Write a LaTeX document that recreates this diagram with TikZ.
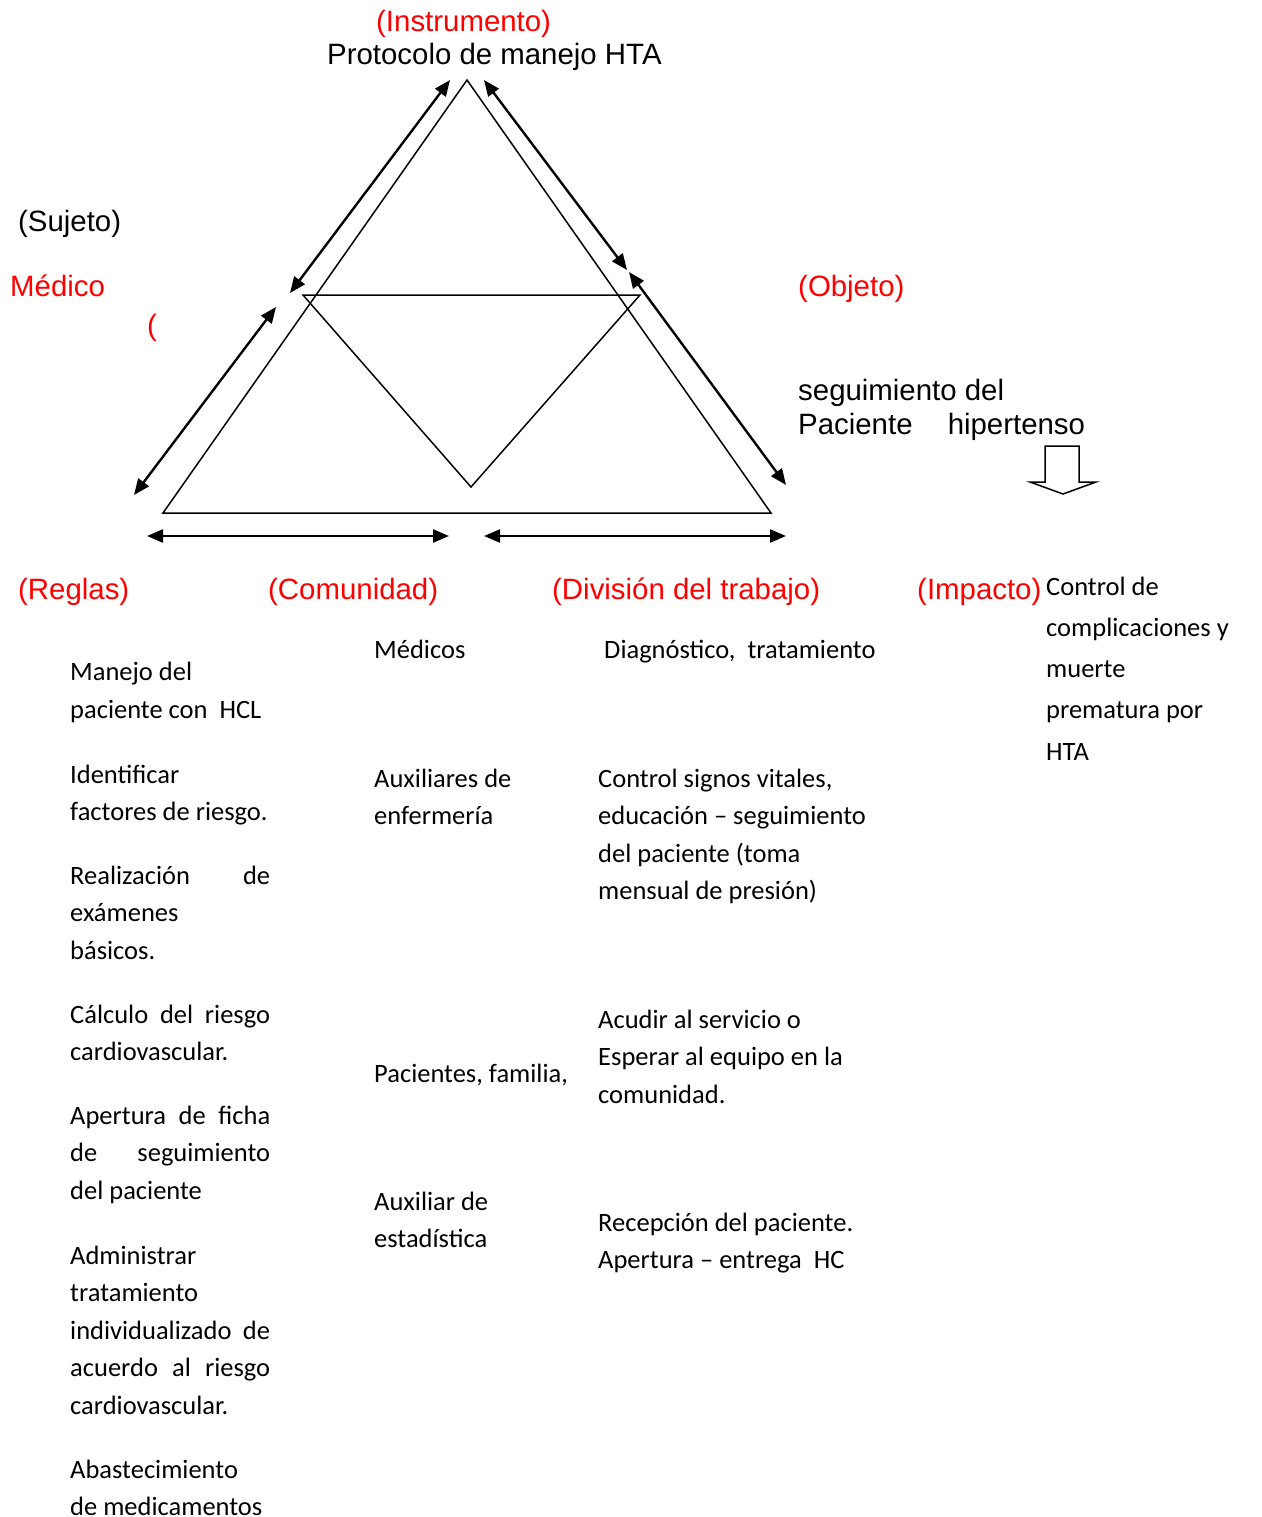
\documentclass[tikz,border=0pt]{standalone}
\usepackage{fontspec}
\setmainfont{Carlito}
\newfontfamily\arialfont{Liberation Sans}
\usetikzlibrary{arrows.meta}
\definecolor{rojo}{RGB}{255,0,0}

\begin{document}
\begin{tikzpicture}[x=1pt,y=-1pt]
\tikzset{etiqueta/.style={anchor=base west,inner sep=0pt,font=\arialfont\fontsize{29.4}{34}\selectfont},
roja/.style={etiqueta,text=rojo},
texto/.style={anchor=base west,inner sep=0pt,align=left,font=\fontsize{26.5}{37.6}\selectfont},
flecha/.style={line width=2.4pt,{Triangle[length=16pt,width=13pt]}-{Triangle[length=16pt,width=13pt]}},
linea/.style={line width=1.5pt,line join=miter}}
\useasboundingbox (0,0) rectangle (1261,1517);
% triangulos
\coordinate (ápice) at (467,80);
\coordinate (izq) at (163,513);
\coordinate (der) at (771,513);
\coordinate (mi) at (303,295);
\coordinate (md) at (640,295);
\coordinate (centro) at (471,487);
\draw[linea] (ápice) -- (izq) -- (der) -- cycle;
\draw[linea] (mi) -- (md) -- (centro) -- cycle;
% flechas
\coordinate (a1) at (450,80);  \coordinate (a2) at (290,293);
\coordinate (b1) at (276,307); \coordinate (b2) at (134,495);
\coordinate (c1) at (484,80);  \coordinate (c2) at (627,270);
\coordinate (d1) at (629,272); \coordinate (d2) at (786,485);
\coordinate (e1) at (147,536); \coordinate (e2) at (449,536);
\coordinate (f1) at (484,536); \coordinate (f2) at (786,536);
\draw[flecha] (a1) -- (a2);
\draw[flecha] (b1) -- (b2);
\draw[flecha] (c1) -- (c2);
\draw[flecha] (d1) -- (d2);
\draw[flecha] (e1) -- (e2);
\draw[flecha] (f1) -- (f2);
\draw[line width=1.5pt,line join=miter] (1045,446) -- (1079,446) -- (1079,482) -- (1096,482) -- (1063,494) -- (1030,482) -- (1045,482) -- cycle;
% rotulos (base = ultima linea)
\node[roja] (instr) at (376,32) {(Instrumento)};
\node[etiqueta] (proto) at (327,65) {Protocolo de manejo HTA};
\node[etiqueta] (sujeto) at (18,231) {(Sujeto)};
\node[roja] (medico) at (10,296) {Médico};
\node[roja] (paren) at (147,335) {(};
\node[roja] (objeto) at (798,296) {(Objeto)};
\node[etiqueta,align=left] (seguim) at (798,434) {seguimiento del\\Paciente\hspace{27pt} hipertenso};
\node[roja] (reglas) at (18,599) {(Reglas)};
\node[roja] (comun) at (268,599) {(Comunidad)};
\node[roja] (divis) at (552,599) {(División del trabajo)};
\node[roja] (impacto) at (917,599) {(Impacto)};
\node[texto,font=\fontsize{26.5}{41.2}\selectfont] (imp) at (1046,760) {Control de\\complicaciones y\\muerte\\prematura por\\HTA};
% reglas
\node[texto] (r1) at (70,718) {Manejo del\\paciente con\ \ HCL};
\node[texto] (r2) at (70,820.6) {Identificar\\factores de riesgo.};
\node[texto] (r3) at (70,959.2) {\makebox[200pt][s]{Realización de}\\exámenes\\básicos.};
\node[texto] (r4) at (70,1060.6) {\makebox[200pt][s]{Cálculo del riesgo}\\cardiovascular.};
\node[texto] (r5) at (70,1199.2) {\makebox[200pt][s]{Apertura de ficha}\\\makebox[200pt][s]{de seguimiento}\\del paciente};
\node[texto] (r6) at (70,1414.4) {Administrar\\tratamiento\\\makebox[200pt][s]{individualizado de}\\\makebox[200pt][s]{acuerdo al riesgo}\\cardiovascular.};
\node[texto] (r7) at (70,1515.6) {Abastecimiento\\de medicamentos};
% comunidad
\node[texto] (c1) at (374,658) {Médicos};
\node[texto] (c2) at (374,824.6) {Auxiliares de\\enfermería};
\node[texto] (c3) at (374,1082) {Pacientes, familia,};
\node[texto] (c4) at (374,1247.6) {Auxiliar de\\estadística};
% division del trabajo
\node[texto] (t1) at (604,658) {Diagnóstico,\ \ tratamiento};
\node[texto] (t2) at (598,899.8) {Control signos vitales,\\educación – seguimiento\\del paciente (toma\\mensual de presión)};
\node[texto] (t3) at (598,1103.2) {Acudir al servicio o\\Esperar al equipo en la\\comunidad.};
\node[texto] (t4) at (598,1268.6) {Recepción del paciente.\\Apertura – entrega\ \ HC};
\end{tikzpicture}
\end{document}
